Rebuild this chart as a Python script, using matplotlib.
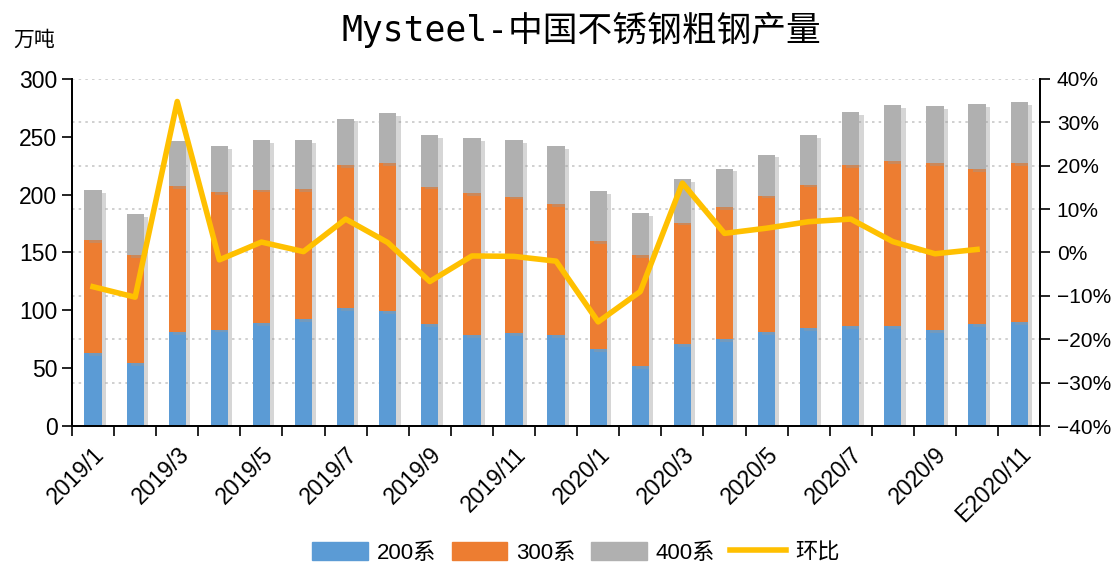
import numpy as np
import matplotlib.pyplot as plt
import matplotlib.patheffects as pe
from matplotlib.patches import Patch
from matplotlib.lines import Line2D
from matplotlib.ticker import FuncFormatter

plt.rcParams['font.family'] = ['Liberation Sans', 'Noto Sans CJK SC', 'DejaVu Sans']

months = ['2019/1', '2019/2', '2019/3', '2019/4', '2019/5', '2019/6', '2019/7', '2019/8',
          '2019/9', '2019/10', '2019/11', '2019/12', '2020/1', '2020/2', '2020/3', '2020/4',
          '2020/5', '2020/6', '2020/7', '2020/8', '2020/9', '2020/10', 'E2020/11']

# cumulative tops (万吨)
s200 = [62.7, 54.5, 81.4, 83.4, 89.2, 92.6, 101.6, 99.6, 87.8, 78.8, 80.0, 78.8,
        66.7, 51.7, 70.5, 74.8, 81.4, 84.3, 86.6, 86.6, 82.9, 87.8, 89.8]
top300 = [160.8, 147.8, 207.5, 202.0, 204.3, 204.9, 225.4, 227.2, 206.9, 201.5, 198.3, 191.7,
          159.9, 147.8, 175.8, 189.4, 199.1, 208.7, 225.7, 229.2, 227.4, 222.3, 227.4]
total = [204.0, 183.0, 246.5, 241.9, 247.1, 247.4, 265.8, 270.5, 251.4, 249.1, 247.4, 241.9,
         202.9, 184.2, 213.3, 222.5, 234.6, 251.7, 271.3, 277.4, 276.2, 278.3, 279.7]
s300 = [b - a for a, b in zip(s200, top300)]
s400 = [b - a for a, b in zip(top300, total)]

# 环比 (%), no value for E2020/11
mom = [-7.9, -10.3, 34.8, -1.7, 2.4, 0.2, 7.7, 2.3, -6.7, -0.8, -0.9, -2.0,
       -16.0, -9.0, 16.0, 4.4, 5.6, 7.1, 7.7, 2.5, -0.3, 0.7]

c200 = '#5B9BD5'
c300 = '#ED7D31'
c400 = '#B0B0B0'
cline = '#FFC000'

fig = plt.figure(figsize=(11.18, 5.68), dpi=100)
ax = fig.add_axes([0.0644, 0.25, 0.866, 0.611])
ax2 = ax.twinx()

x = np.arange(len(months))
w = 0.41
shadow = [pe.SimplePatchShadow(offset=(3, -2), shadow_rgbFace='#999999', alpha=0.4), pe.Normal()]
b1 = ax.bar(x, s200, w, color=c200)
b2 = ax.bar(x, s300, w, bottom=s200, color=c300)
b3 = ax.bar(x, s400, w, bottom=top300, color=c400)
for bars in (b1, b2, b3):
    for p in bars:
        p.set_path_effects(shadow)

ax2.plot(x[:len(mom)], mom, color=cline, lw=4)

ax.set_xlim(-0.5, len(months) - 0.5)
ax.set_ylim(0, 300)
ax.set_yticks(range(0, 301, 50))
ax2.set_ylim(-40, 40)
ax2.set_yticks(range(-40, 41, 10))
ax2.yaxis.set_major_formatter(FuncFormatter(lambda v, p: f'{v:.0f}%'.replace('-', '\u2212')))

# dotted grid follows the right-hand axis
for v in range(-30, 41, 10):
    ax.axhline((v + 40) * 300 / 80, color='#c8c8c8', ls=(0, (1.5, 2.5)), lw=1.2, zorder=0)
ax2.set_zorder(ax.get_zorder() + 1)
ax2.patch.set_visible(False)

ax.set_xticks(np.arange(-0.5, len(months), 1))
ax.set_xticklabels([])
ax.set_xticks(x[::2], minor=True)
ax.set_xticklabels(months[::2], minor=True, rotation=45, ha='right', rotation_mode='anchor')
ax.tick_params(axis='x', which='major', length=7, width=1.2, direction='out')
ax.tick_params(axis='x', which='minor', length=0, labelsize=16.5, pad=12)
ax.tick_params(axis='y', length=7, width=1.2, labelsize=16.5)
ax2.tick_params(axis='y', length=7, width=1.2, labelsize=15, pad=5)

for a in (ax, ax2):
    a.spines['top'].set_visible(False)
    for s in ('left', 'right', 'bottom'):
        a.spines[s].set_linewidth(1.3)

fig.text(0.52, 0.947, 'Mysteel-中国不锈钢粗钢产量', ha='center', va='center', fontsize=25,
         family=['DejaVu Sans Mono', 'Noto Sans CJK SC'])
fig.text(0.012, 0.93, '万吨', ha='left', va='center', fontsize=15,
         family=['Noto Sans CJK SC', 'DejaVu Sans'])

handles = [Patch(color=c200), Patch(color=c300), Patch(color=c400),
           Line2D([], [], color=cline, lw=4)]
fig.legend(handles, ['200系', '300系', '400系', '环比'], loc='center',
           bbox_to_anchor=(0.515, 0.027), ncol=4, frameon=False, fontsize=16,
           handlelength=2.5, handleheight=0.9, columnspacing=0.7, handletextpad=0.4)

fig.savefig('out.png', dpi=100)
